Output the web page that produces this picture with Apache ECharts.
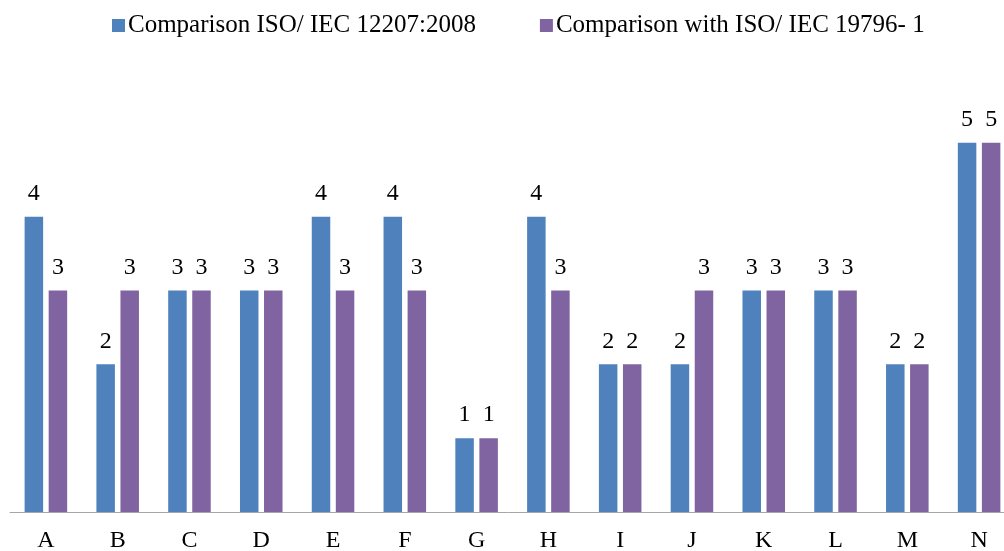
<!DOCTYPE html>
<html>
<head>
<meta charset="utf-8">
<script src="https://cdn.jsdelivr.net/npm/echarts@6/dist/echarts.min.js"></script>
<style>
  html, body { margin: 0; padding: 0; background: #fff; }
  #chart { width: 1004px; height: 551px; }
</style>
</head>
<body>
<div id="chart"></div>
<script>
const categories = ['A', 'B', 'C', 'D', 'E', 'F', 'G', 'H', 'I', 'J', 'K', 'L', 'M', 'N'];
const iso12207 = [4, 2, 3, 3, 4, 4, 1, 4, 2, 2, 3, 3, 2, 5];
const iso19796 = [3, 3, 3, 3, 3, 3, 1, 3, 2, 3, 3, 3, 2, 5];
const seriesNames = ['Comparison ISO/ IEC 12207:2008', 'Comparison with ISO/ IEC 19796- 1'];

const font = '"Liberation Serif", "Times New Roman", serif';

const labelStyle = {
  show: true,
  position: 'top',
  distance: 11,
  color: '#000',
  fontFamily: font,
  fontSize: 24
};

const myChart = echarts.init(document.getElementById('chart'));
myChart.setOption({
  animation: false,
  legend: {
    top: 8,
    left: 107,
    itemWidth: 13,
    itemHeight: 13,
    itemGap: 64,
    icon: 'rect',
    textStyle: { fontFamily: font, fontSize: 25, color: '#000', padding: [0, 0, 0, -2] },
    data: seriesNames
  },
  grid: { left: 10, right: -11, top: 69, bottom: 39, outerBoundsMode: 'none' },
  xAxis: {
    type: 'category',
    data: categories,
    axisLine: { lineStyle: { color: '#a6a6a6', width: 1 } },
    axisTick: { show: false },
    axisLabel: { color: '#000', fontFamily: font, fontSize: 24, margin: 17 }
  },
  yAxis: {
    type: 'value',
    min: 0,
    max: 6,
    interval: 1,
    show: false,
    splitLine: { show: false }
  },
  series: [
    {
      name: seriesNames[0],
      type: 'bar',
      barWidth: 18.5,
      barGap: '30%',
      itemStyle: { color: '#4f81bd' },
      label: labelStyle,
      data: iso12207
    },
    {
      name: seriesNames[1],
      type: 'bar',
      barWidth: 18.5,
      barGap: '30%',
      itemStyle: { color: '#8064a2' },
      label: labelStyle,
      data: iso19796
    }
  ]
});
</script>
</body>
</html>
